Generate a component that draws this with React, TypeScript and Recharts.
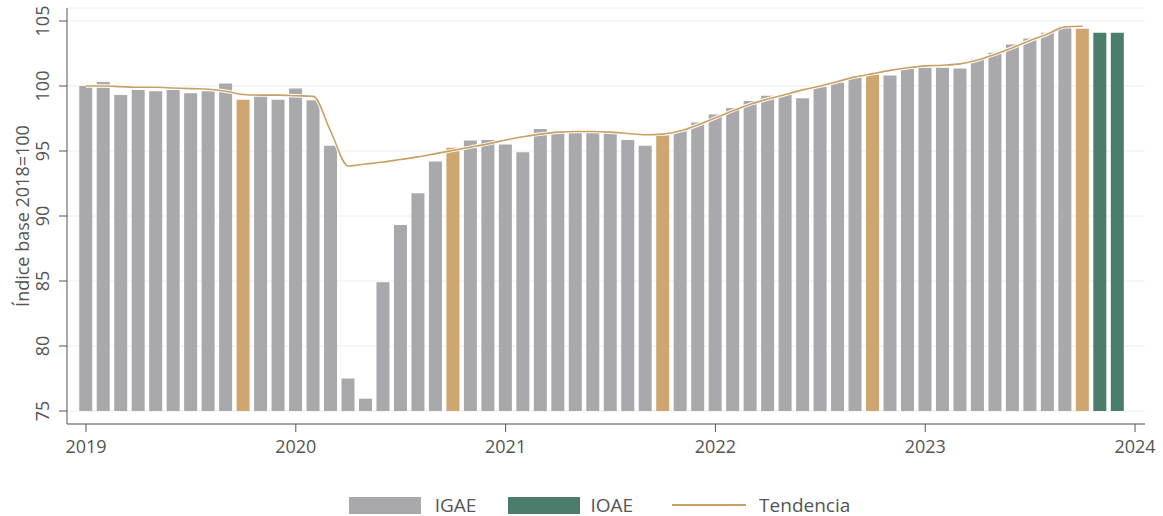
import React from 'react';
import { ComposedChart, Bar, Line, XAxis, YAxis, CartesianGrid, Legend, Cell } from 'recharts';

// Monthly periods: Jan 2019 .. Dec 2023
const startYear = 2019;
const monthCodes = ['01', '02', '03', '04', '05', '06', '07', '08', '09', '10', '11', '12'];

// IGAE index (2018=100), Jan 2019 .. Oct 2023
const igae = [
  100.0, 100.3, 99.3, 99.7, 99.6, 99.7, 99.45, 99.6, 100.2, 98.95, 99.25, 98.95,
  99.8, 98.9, 95.4, 77.5, 75.95, 84.9, 89.3, 91.75, 94.2, 95.25, 95.8, 95.85,
  95.5, 94.9, 96.7, 96.45, 96.45, 96.4, 96.4, 95.85, 95.4, 96.3, 96.55, 97.2,
  97.8, 98.3, 98.85, 99.25, 99.3, 99.05, 99.95, 100.25, 100.7, 100.9, 100.8, 101.35,
  101.4, 101.4, 101.35, 102.05, 102.55, 103.2, 103.65, 104.1, 104.6, 104.4,
];

// IOAE nowcast, Nov 2023 .. Dec 2023
const ioae = [104.1, 104.1];

// Trend, Jan 2019 .. Oct 2023
const trend = [
  100.0, 100.0, 99.95, 99.9, 99.9, 99.85, 99.8, 99.75, 99.6, 99.35, 99.3, 99.3,
  99.25, 99.2, 96.5, 93.85, 94.0, 94.15, 94.35, 94.55, 94.8, 95.05, 95.3, 95.55,
  95.85, 96.1, 96.3, 96.45, 96.5, 96.5, 96.45, 96.35, 96.25, 96.3, 96.55, 97.0,
  97.55, 98.1, 98.6, 99.0, 99.35, 99.7, 100.0, 100.35, 100.7, 100.95, 101.2, 101.4,
  101.55, 101.6, 101.7, 102.0, 102.45, 102.95, 103.5, 104.0, 104.55, 104.6,
];

const yTicks = [75, 80, 85, 90, 95, 100, 105];
const xTickYears = [2019, 2020, 2021, 2022, 2023, 2024];
const highlightMonth = '10';

const GRAY = '#a9a9ad';
const TAN = '#cfa66f';
const GREEN = '#4b7d6d';
const LINE = '#c9a064';
const TEXT = '#555555';
const FONT = '"Open Sans", sans-serif';

const totalMonths = igae.length + ioae.length;
const data = Array.from({ length: totalMonths }, (_, i) => {
  const year = startYear + Math.floor(i / 12);
  const month = monthCodes[i % 12];
  return {
    t: i,
    period: `${year}-${month}`,
    month,
    igae: i < igae.length ? igae[i] : null,
    ioae: i >= igae.length ? ioae[i - igae.length] : null,
    trend: i < trend.length ? trend[i] : null,
  };
});

const xTicks = xTickYears.map((y) => (y - startYear) * 12);
const xDomain: [number, number] = [-1.086, 60.57];

const YTick = (props: any) => {
  const { x, y, payload } = props;
  const cx = x - 15.5;
  return (
    <text
      x={cx}
      y={y}
      transform={`rotate(-90 ${cx} ${y})`}
      textAnchor="middle"
      dominantBaseline="central"
      fontSize={18}
      fontFamily={FONT}
      fill={TEXT}
    >
      {payload.value}
    </text>
  );
};

const YLabel = () => (
  <text
    x={22}
    y={216}
    transform="rotate(-90 22 216)"
    textAnchor="middle"
    dominantBaseline="central"
    fontSize={18}
    fontFamily={FONT}
    fill={TEXT}
  >
    Índice base 2018=100
  </text>
);

const renderLegend = () => (
  <div
    style={{
      width: 1163,
      height: 40,
      boxSizing: 'border-box',
      paddingTop: 18,
      paddingLeft: 36,
      display: 'flex',
      justifyContent: 'center',
      alignItems: 'center',
      fontFamily: FONT,
      fontSize: 19,
      color: TEXT,
    }}
  >
    <span style={{ display: 'inline-block', width: 72, height: 17, background: GRAY, marginRight: 14 }} />
    <span style={{ marginRight: 32 }}>IGAE</span>
    <span style={{ display: 'inline-block', width: 72, height: 17, background: GREEN, marginRight: 10 }} />
    <span style={{ marginRight: 39 }}>IOAE</span>
    <span style={{ display: 'inline-block', width: 74, height: 2, background: LINE, marginRight: 13 }} />
    <span>Tendencia</span>
  </div>
);

export default function App() {
  return (
    <div style={{ position: 'absolute', left: 0, top: 0, width: 1163, height: 516, background: '#fff' }}>
      <ComposedChart
        width={1163}
        height={516}
        data={data}
        margin={{ top: 8, right: 18, bottom: 0, left: 0 }}
      >
        <CartesianGrid horizontal vertical={false} stroke="#eeeeee" />
        <XAxis
          type="number"
          dataKey="t"
          domain={xDomain}
          allowDataOverflow
          ticks={xTicks}
          tickFormatter={(v: number) => String(startYear + v / 12)}
          height={52}
          tickSize={8}
          tickMargin={8}
          stroke="#555"
          tick={{ fontSize: 18, fontFamily: FONT, fill: TEXT }}
        />
        <XAxis
          xAxisId="b"
          type="number"
          dataKey="t"
          domain={xDomain}
          allowDataOverflow
          hide
        />
        <YAxis
          type="number"
          domain={[75, 106]}
          allowDataOverflow
          ticks={yTicks}
          width={67}
          padding={{ top: 0, bottom: 13 }}
          tickSize={8}
          stroke="#555"
          tick={<YTick />}
          label={<YLabel />}
        />
        <Bar dataKey="igae" name="IGAE" barSize={13} isAnimationActive={false}>
          {data.map((d) => (
            <Cell key={d.period} fill={d.month === highlightMonth ? TAN : GRAY} />
          ))}
        </Bar>
        <Bar dataKey="ioae" name="IOAE" xAxisId="b" barSize={13} fill={GREEN} isAnimationActive={false} />
        <Line
          dataKey="trend"
          type="monotone"
          stroke="#ffffff"
          strokeWidth={3.5}
          dot={false}
          legendType="none"
          isAnimationActive={false}
        />
        <Line
          dataKey="trend"
          name="Tendencia"
          type="monotone"
          stroke={LINE}
          strokeWidth={1.6}
          dot={false}
          isAnimationActive={false}
        />
        <Legend
          verticalAlign="bottom"
          height={40}
          wrapperStyle={{ left: 0, width: 1163 }}
          content={renderLegend}
        />
      </ComposedChart>
    </div>
  );
}
